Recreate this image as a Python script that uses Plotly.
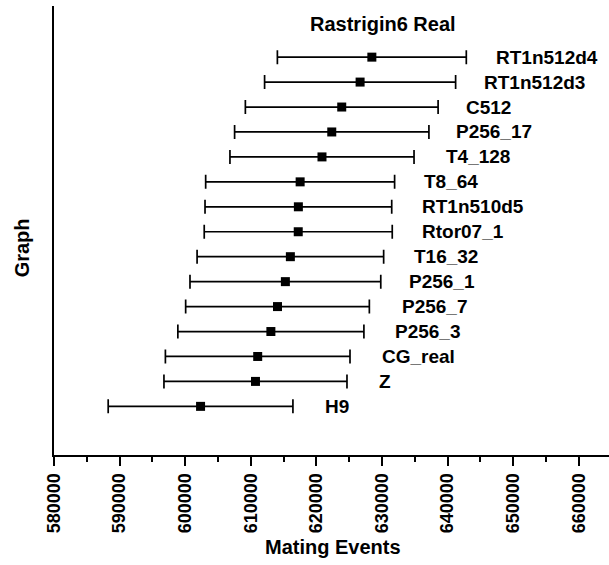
import plotly.graph_objects as go

# Data (top to bottom as shown)
names = ["RT1n512d4", "RT1n512d3", "C512", "P256_17", "T4_128", "T8_64",
         "RT1n510d5", "Rtor07_1", "T16_32", "P256_1", "P256_7", "P256_3",
         "CG_real", "Z", "H9"]
means = [628450, 626660, 623860, 622340, 620850, 617520, 617250, 617230,
         616030, 615270, 614070, 613060, 611050, 610710, 602340]
errors = [14400, 14560, 14690, 14810, 14030, 14400, 14230, 14330,
          14220, 14540, 14000, 14180, 14070, 13950, 14080]

x_ticks = [580000, 590000, 600000, 610000, 620000, 630000, 640000, 650000, 660000]

order = names[::-1]
FONT = "Liberation Sans, Arial, sans-serif"

fig = go.Figure()
fig.add_trace(go.Scatter(
    x=means, y=names, mode="markers",
    marker=dict(symbol="square", size=9, color="black"),
    error_x=dict(type="data", array=errors, visible=True,
                 color="black", thickness=1.7, width=7),
    showlegend=False, hoverinfo="skip",
))

for n, m in zip(names, means):
    fig.add_annotation(x=m, y=n, xref="x", yref="y", text=n,
                       showarrow=False, xanchor="left", yanchor="middle",
                       xshift=122,
                       font=dict(family=FONT, size=19, color="black", weight="bold"))

fig.add_annotation(x=0.592, y=0.96, xref="paper", yref="paper",
                   text="Rastrigin6 Real", showarrow=False,
                   xanchor="center", yanchor="middle",
                   font=dict(family=FONT, size=20, color="black", weight="bold"))
fig.add_annotation(x=0.502, y=-0.205, xref="paper", yref="paper",
                   text="Mating Events", showarrow=False,
                   xanchor="center", yanchor="middle",
                   font=dict(family=FONT, size=20, color="black", weight="bold"))
fig.add_annotation(x=-0.058, y=0.462, xref="paper", yref="paper",
                   text="Graph", showarrow=False, textangle=-90,
                   xanchor="center", yanchor="middle",
                   font=dict(family=FONT, size=20, color="black", weight="bold"))

fig.update_layout(
    width=609, height=565,
    margin=dict(l=54, r=0, t=6, b=110),
    paper_bgcolor="white", plot_bgcolor="white",
    xaxis=dict(range=[580000, 664600], showline=True, linewidth=2, linecolor="black",
               showgrid=False, zeroline=False,
               tickmode="array", tickvals=x_ticks, ticktext=[str(v) for v in x_ticks],
               ticks="outside", ticklen=9, tickwidth=2, tickcolor="black",
               tickangle=-90,
               tickfont=dict(family=FONT, size=18, color="black", weight="bold"),
               minor=dict(dtick=5000, tick0=580000, ticks="outside", ticklen=5,
                          tickwidth=2, tickcolor="black", showgrid=False)),
    yaxis=dict(type="category", categoryorder="array", categoryarray=order,
               range=[-1.95, 16.05], showline=True, linewidth=2, linecolor="black",
               showgrid=False, zeroline=False, showticklabels=False, ticks=""),
)

fig.write_html("out.html")
